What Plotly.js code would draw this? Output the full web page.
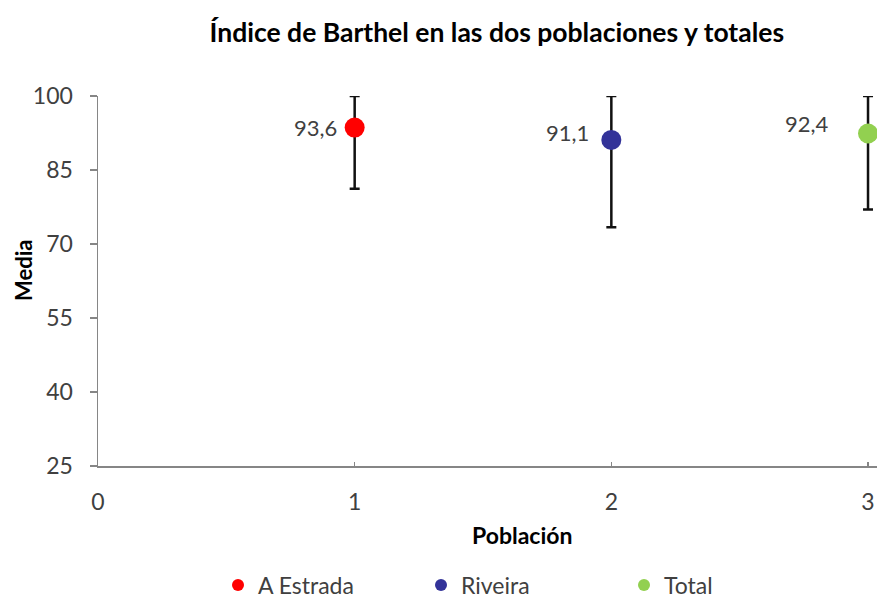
<!DOCTYPE html>
<html>
<head>
<meta charset="utf-8">
<script src="https://cdn.plot.ly/plotly-3.0.1.min.js"></script>
<style>
html, body { margin:0; padding:0; overflow:hidden; background:#fff; }
#chart { width:877px; height:599px; }
</style>
</head>
<body>
<div id="chart"></div>
<script>
// Data
const categories = ['A Estrada', 'Riveira', 'Total'];
const xPositions = [1, 2, 3];
const means = [93.6, 91.1, 92.4];
const upperBounds = [100, 100, 100];
const lowerBounds = [81.2, 73.4, 77.0];
const colors = ['#FF0000', '#333399', '#92D050'];
const yTicks = [25, 40, 55, 70, 85, 100];
const xTitle = 'Población';
const yTitle = 'Media';

const FONT = 'Lato, "Open Sans", sans-serif';

// label offsets (styling only)
const labelShift = [{x:-16, y:0}, {x:-20, y:7}, {x:-37, y:10}];

const traces = categories.map((name, i) => ({
  type: 'scatter',
  mode: 'markers',
  name: name,
  x: [xPositions[i]],
  y: [means[i]],
  cliponaxis: false,
  marker: { color: colors[i], size: 20 },
  error_y: {
    type: 'data',
    symmetric: false,
    array: [upperBounds[i] - means[i]],
    arrayminus: [means[i] - lowerBounds[i]],
    color: '#111111',
    thickness: 2.5,
    width: 5
  },
  hoverinfo: 'x+y'
}));

const annotations = categories.map((name, i) => ({
  x: xPositions[i],
  y: means[i],
  xref: 'x', yref: 'y',
  text: means[i].toFixed(1).replace('.', ','),
  showarrow: false,
  xanchor: 'right',
  yanchor: 'middle',
  xshift: labelShift[i].x,
  yshift: labelShift[i].y,
  font: { family: FONT, size: 22, color: '#404040' }
}));

annotations.push({
  text: xTitle,
  xref: 'paper', yref: 'paper',
  x: 0.544, y: -0.186,
  xanchor: 'center', yanchor: 'middle',
  showarrow: false,
  font: { family: FONT, size: 23, color: '#000000', weight: 'bold' }
});

annotations.push({
  text: yTitle,
  xref: 'paper', yref: 'paper',
  x: -0.095, y: 0.53,
  xanchor: 'center', yanchor: 'middle',
  textangle: -90,
  showarrow: false,
  font: { family: FONT, size: 22, color: '#000000', weight: 'bold' }
});

const layout = {
  width: 877,
  height: 599,
  margin: { l: 98, r: 0, t: 96, b: 133 },
  paper_bgcolor: '#ffffff',
  plot_bgcolor: '#ffffff',
  font: { family: FONT, color: '#404040' },
  title: {
    text: 'Índice de Barthel en las dos poblaciones y totales',
    font: { family: FONT, size: 26.5, color: '#000000', weight: 'bold' },
    xref: 'paper', x: 0.512, xanchor: 'center',
    yref: 'container', y: 1 - 33/599, yanchor: 'middle',
    automargin: false
  },
  xaxis: {
    range: [0, 3.035],
    tickmode: 'linear', tick0: 0, dtick: 1,
    ticks: 'inside', ticklen: 4, tickwidth: 1.5, tickcolor: '#868686',
    showline: true, linecolor: '#868686', linewidth: 1.5,
    showgrid: false, zeroline: false, automargin: false,
    tickfont: { family: FONT, size: 23, color: '#404040' },
    ticklabelstandoff: 15
  },
  yaxis: {
    range: [25, 100],
    tickmode: 'array', tickvals: yTicks, ticktext: yTicks.map(String),
    ticks: 'outside', ticklen: 7, tickwidth: 1.5, tickcolor: '#868686',
    showline: true, linecolor: '#868686', linewidth: 1.5,
    showgrid: false, zeroline: false, automargin: false,
    tickfont: { family: FONT, size: 23, color: '#404040' },
    ticklabelstandoff: 12
  },
  showlegend: true,
  legend: {
    orientation: 'h',
    xref: 'container', x: 218/877, xanchor: 'left',
    yref: 'container', y: 1 - 585/599, yanchor: 'middle',
    itemsizing: 'constant',
    entrywidth: 158, entrywidthmode: 'pixels',
    font: { family: FONT, size: 23, color: '#404040' },
    bgcolor: 'rgba(0,0,0,0)'
  },
  annotations: annotations
};

Plotly.newPlot('chart', traces, layout, { displayModeBar: false, staticPlot: true });
</script>
</body>
</html>
